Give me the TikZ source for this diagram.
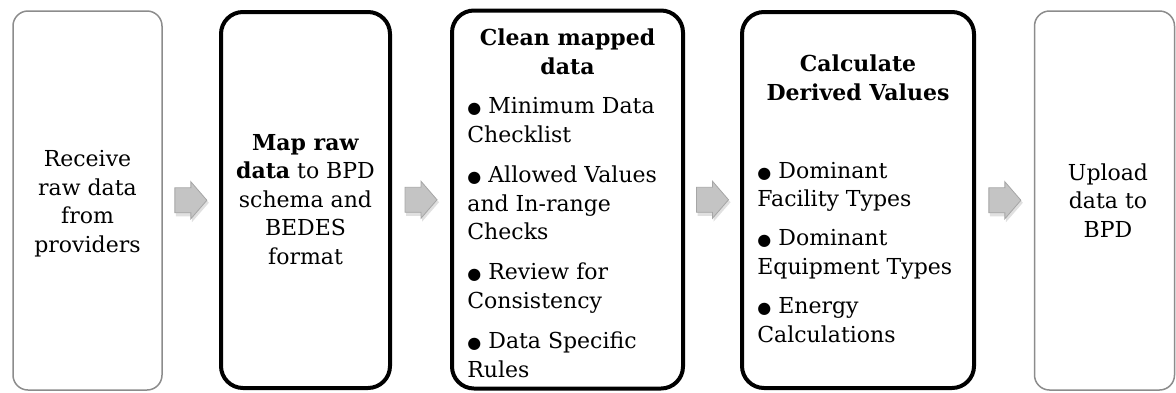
\documentclass[tikz,border=0pt]{standalone}
\usepackage{fontspec}
\setmainfont{DejaVu Serif}
\newfontfamily\symfont{DejaVu Sans}
\usetikzlibrary{calc}
\newcommand\bul{{\symfont\fontsize{8}{8}\selectfont ●}\ }
\begin{document}
\begin{tikzpicture}[x=0.5pt,y=-0.5pt,
  light/.style={draw=black!45, line width=0.75pt, rounded corners=7.5pt, fill=white},
  heavy/.style={draw=black, line width=2pt, rounded corners=11pt, fill=white},
  txt/.style={font=\fontsize{11}{14.2}\selectfont, inner sep=0pt, align=center},
  lst/.style={font=\fontsize{11}{14.2}\selectfont, inner sep=0pt, align=left, anchor=base west},
  blockarrow/.style={fill=black!23, draw=black!35, line width=0.4pt},
  arrowshadow/.style={fill=black!12},
]
\useasboundingbox (0,0) rectangle (1176,392);

% boxes
\node[light, minimum width=74.5pt, minimum height=189.5pt] (b1) at (87.5,200.5) {};
\node[heavy, minimum width=84.5pt, minimum height=188pt] (b2) at (305.5,200) {};
\node[heavy, minimum width=115.5pt, minimum height=189pt] (b3) at (567.5,199.5) {};
\node[heavy, minimum width=116pt, minimum height=188pt] (b4) at (858,200) {};
\node[light, minimum width=70pt, minimum height=189.5pt] (b5) at (1104.5,200.5) {};

% box texts (anchored at the baseline of their last line)
\node[txt, anchor=base] (t1) at (87.5,252) {Receive\\raw data\\from\\providers};
\node[txt, anchor=base] (t2) at (305.5,264) {\textbf{Map raw}\\\textbf{data} to BPD\\schema and\\BEDES\\format};
\node[txt, anchor=base] (t3) at (567.5,74) {\textbf{Clean mapped}\\\textbf{data}};
\node[lst] (l3) at (467,377) {\bul Minimum Data\\Checklist\\[6pt]\bul Allowed Values\\and In-range\\Checks\\[6pt]\bul Review for\\Consistency\\[6pt]\bul Data Specific\\Rules};
\node[txt, anchor=base] (t4) at (858,100) {\textbf{Calculate}\\\textbf{Derived Values}};
\node[lst] (l4) at (757,342) {\bul Dominant\\Facility Types\\[5.5pt]\bul Dominant\\Equipment Types\\[5.5pt]\bul Energy\\Calculations};
\node[txt, anchor=base] (t5) at (1108,237) {Upload\\data to\\BPD};

% block arrows between boxes
\foreach \a/\b/\n in {b1/b2/a1, b2/b3/a2, b3/b4/a3, b4/b5/a4}{
  \coordinate (\n) at ($(\a.east)!0.5!(\b.west)$);
  \fill[arrowshadow] ($(\n)+(-15,-11)$) -- ++(16,0) -- ++(0,-6) -- ++(17,19.5) -- ++(-17,19.5) -- ++(0,-6) -- ++(-16,0) -- cycle;
  \path[blockarrow] ($(\n)+(-16,-12.5)$) -- ++(16,0) -- ++(0,-6) -- ++(16,18.5) -- ++(-16,18.5) -- ++(0,-6) -- ++(-16,0) -- cycle;
}
\end{tikzpicture}
\end{document}
